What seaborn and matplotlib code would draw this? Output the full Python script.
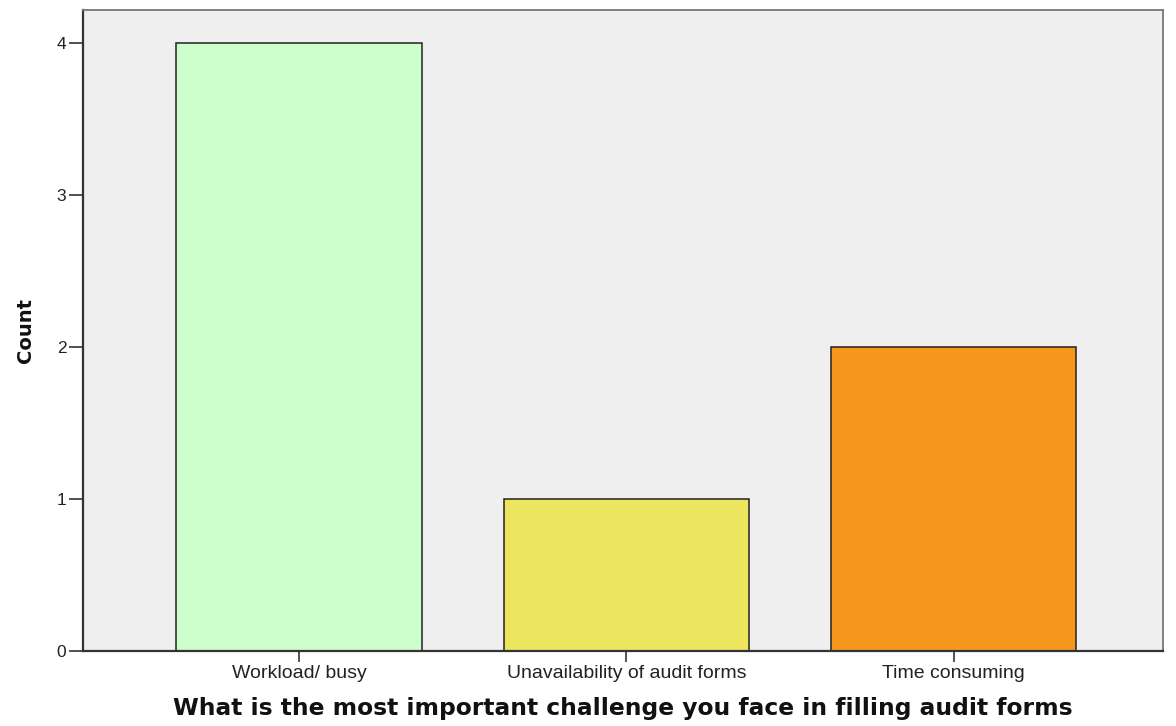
import matplotlib
matplotlib.use("Agg")
import matplotlib.pyplot as plt
import seaborn as sns
import pandas as pd

# data
challenges = ["Workload/ busy", "Unavailability of audit forms", "Time consuming"]
counts = [4, 1, 2]
bar_colors = ["#ccffcc", "#ebe65e", "#f7981e"]
y_ticks = [0, 1, 2, 3, 4]

df = pd.DataFrame({"challenge": challenges, "count": counts})

sns.set_style("white")
plt.rcParams['font.family'] = ['Liberation Sans', 'DejaVu Sans']

fig = plt.figure(figsize=(11.76, 7.26), dpi=100)
ax = fig.add_axes([83 / 1176, 75 / 726, 1080 / 1176, 641 / 726])

sns.barplot(data=df, x="challenge", y="count", hue="challenge",
            palette=bar_colors, legend=False, width=0.75,
            edgecolor="#222222", linewidth=1.1, saturation=1, ax=ax)

ax.set_facecolor("#efefef")
ax.set_xlim(-0.66, 2.64)
ax.set_ylim(0, 4.22)
ax.set_yticks(y_ticks)
ax.set_yticklabels([str(t) for t in y_ticks])

for side in ["left", "bottom"]:
    ax.spines[side].set_color("#333333")
    ax.spines[side].set_linewidth(1.6)
for side in ["top", "right"]:
    ax.spines[side].set_color("#777777")
    ax.spines[side].set_linewidth(1.3)

ax.tick_params(axis="both", which="both", direction="out", width=1.2,
               color="#333333", labelcolor="#222222", pad=2,
               left=True, bottom=True)
ax.tick_params(axis="x", labelsize=14, length=8)
ax.tick_params(axis="y", labelsize=12.5, length=10)

ax.set_xlabel("What is the most important challenge you face in filling audit forms",
              fontsize=16.8, fontweight="bold", color="#111111",
              family="DejaVu Sans")
ax.xaxis.set_label_coords(0.5, -0.072)
ax.set_ylabel("Count", fontsize=14, fontweight="bold", color="#111111",
              family="DejaVu Sans")
ax.yaxis.set_label_coords(-0.044, 0.5)

fig.savefig("out.png", dpi=100, facecolor="white")
